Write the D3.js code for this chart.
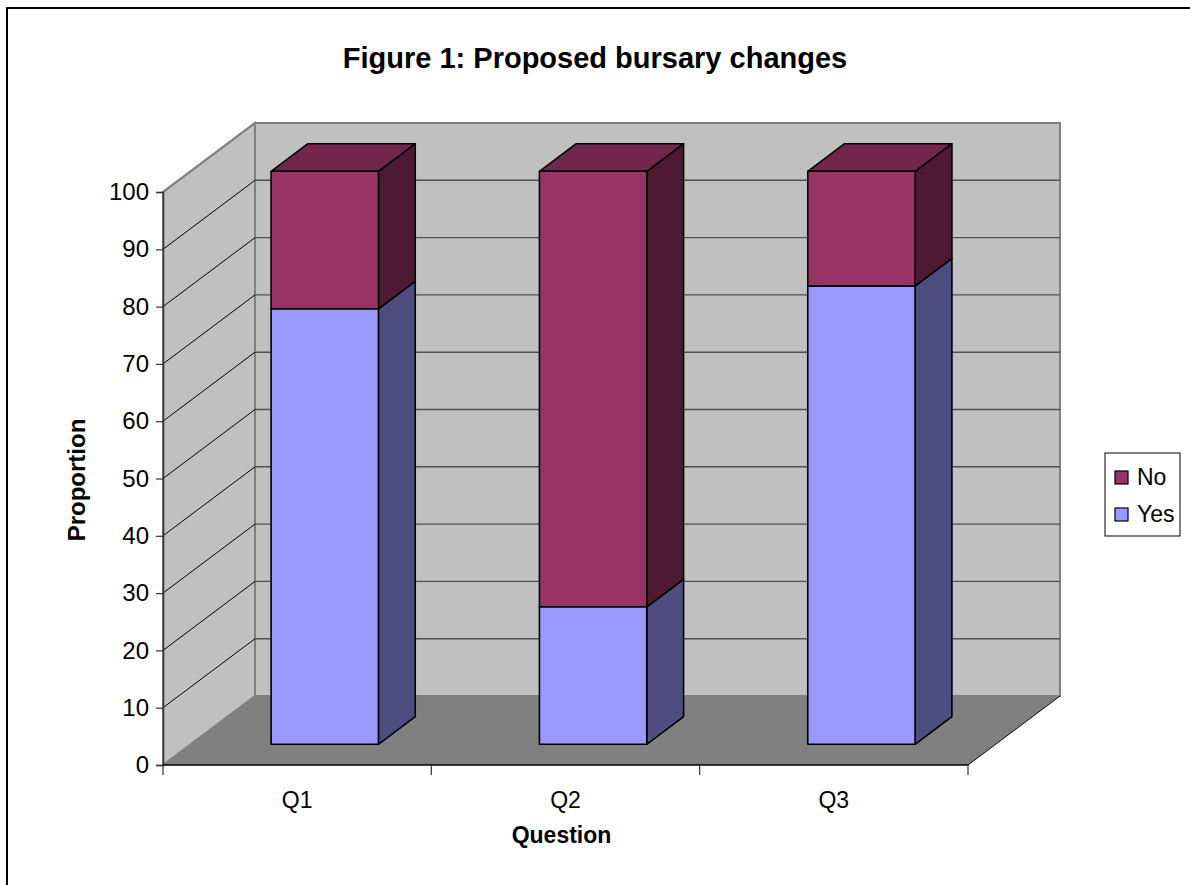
<!DOCTYPE html>
<html>
<head>
<meta charset="utf-8">
<script src="https://cdn.jsdelivr.net/npm/d3@7"></script>
<style>
  html, body { margin: 0; padding: 0; background: #fff; }
  svg { display: block; }
  text { font-family: "Liberation Sans", Arial, sans-serif; }
</style>
</head>
<body>
<script>
const categories = ["Q1", "Q2", "Q3"];
const yesValues = [76, 24, 80];
const noValues = [24, 76, 20];
const seriesNames = ["Yes", "No"];
const yTickValues = [0, 10, 20, 30, 40, 50, 60, 70, 80, 90, 100];
const chartTitle = "Figure 1: Proposed bursary changes";
const xTitle = "Question";
const yTitle = "Proportion";

(function () {
const W = 1190, H = 885;
const svg = d3.select("body").append("svg").attr("width", W).attr("height", H);

// outer chart border (right/bottom lie outside the picture)
svg.append("rect").attr("x", 7).attr("y", 8).attr("width", 1200).attr("height", 900)
  .attr("fill", "#fff").attr("stroke", "#000").attr("stroke-width", 2);

// 3D geometry
const pLeft = 163, pRight = 968, pBottom = 765, pTop = 192;
const DX = 92, DY = 69;

const x = d3.scaleBand().domain(categories).range([pLeft, pRight]).paddingInner(0.6).paddingOuter(0.3);
const y = d3.scaleLinear().domain([0, 100]).range([pBottom, pTop]);
const P = (px, v, z) => [px + z * DX, y(v) - z * DY];

const colors = {
  Yes: { front: "#9999FF", side: "#4D4D80", top: "#7A7ACC" },
  No:  { front: "#993366", side: "#4D1933", top: "#73264D" }
};

const line = d3.line();
const g = svg.append("g");

// back wall
g.append("path").attr("d", line([P(pLeft, 0, 1), P(pRight, 0, 1), P(pRight, 100, 1), P(pLeft, 100, 1)]) + "Z")
  .attr("fill", "#C0C0C0").attr("stroke", "#808080").attr("stroke-width", 2);
// side wall
g.append("path").attr("d", line([P(pLeft, 0, 0), P(pLeft, 100, 0), P(pLeft, 100, 1), P(pLeft, 0, 1)]) + "Z")
  .attr("fill", "#C0C0C0").attr("stroke", "#808080").attr("stroke-width", 2);
// floor
g.append("path").attr("d", line([P(pLeft, 0, 0), P(pRight, 0, 0), P(pRight, 0, 1), P(pLeft, 0, 1)]) + "Z")
  .attr("fill", "#808080").attr("stroke", "none");
// floor right edge
g.append("path").attr("d", line([P(pRight, 0, 0), P(pRight, 0, 1)]))
  .attr("stroke", "#000").attr("stroke-width", 1).attr("fill", "none");

// gridlines on back wall and side wall
const inner = yTickValues.filter(v => v > 0 && v < 100);
g.selectAll(".grid-back").data(inner).enter().append("path")
  .attr("d", v => line([P(pLeft, v, 1), P(pRight, v, 1)]))
  .attr("stroke", "#505050").attr("stroke-width", 1.4).attr("fill", "none");
g.selectAll(".grid-side").data(inner).enter().append("path")
  .attr("d", v => line([P(pLeft, v, 0), P(pLeft, v, 1)]))
  .attr("stroke", "#000").attr("stroke-width", 1).attr("fill", "none");
// side wall top edge
g.append("path").attr("d", line([P(pLeft, 100, 0), P(pLeft, 100, 1)]))
  .attr("stroke", "#808080").attr("stroke-width", 2).attr("fill", "none");

// bars
const data = categories.map((c, i) => ({ cat: c, Yes: yesValues[i], No: noValues[i] }));
const stacked = d3.stack().keys(seriesNames)(data);
const z0 = 0.3, z1 = 0.7;
const bw = x.bandwidth();
stacked.forEach(series => {
  const col = colors[series.key];
  series.forEach(d => {
    const x0 = x(d.data.cat), x1 = x0 + bw;
    const v0 = d[0], v1 = d[1];
    const bg = g.append("g");
    bg.append("path").attr("d", line([P(x1, v0, z0), P(x1, v0, z1), P(x1, v1, z1), P(x1, v1, z0)]) + "Z")
      .attr("fill", col.side).attr("stroke", "#000").attr("stroke-width", 1.6).attr("stroke-linejoin", "round");
    bg.append("path").attr("d", line([P(x0, v1, z0), P(x1, v1, z0), P(x1, v1, z1), P(x0, v1, z1)]) + "Z")
      .attr("fill", col.top).attr("stroke", "#000").attr("stroke-width", 1.6).attr("stroke-linejoin", "round");
    bg.append("path").attr("d", line([P(x0, v0, z0), P(x1, v0, z0), P(x1, v1, z0), P(x0, v1, z0)]) + "Z")
      .attr("fill", col.front).attr("stroke", "#000").attr("stroke-width", 1.6).attr("stroke-linejoin", "round");
  });
});

// value axis (front-left edge)
const yAxis = d3.axisLeft(y).tickValues(yTickValues).tickSize(7).tickPadding(7).tickFormat(d3.format("d"));
const ya = svg.append("g").attr("transform", `translate(${pLeft},0)`).call(yAxis);
ya.select(".domain").attr("stroke", "#333").attr("stroke-width", 1.5);
ya.selectAll(".tick line").attr("stroke", "#333").attr("stroke-width", 1.2);
ya.selectAll(".tick text").attr("font-size", 24).attr("fill", "#000")
  .attr("font-family", "Liberation Sans, Arial, sans-serif");

// category axis (front edge of the floor)
const xEdges = d3.scaleLinear().domain([0, categories.length]).range([pLeft, pRight]);
const xAxisG = svg.append("g").attr("transform", `translate(0,${pBottom})`);
xAxisG.append("line").attr("x1", pLeft).attr("x2", pRight).attr("y1", 0).attr("y2", 0)
  .attr("stroke", "#000").attr("stroke-width", 1.5);
xAxisG.selectAll(".xt").data(d3.range(categories.length + 1)).enter().append("line")
  .attr("x1", i => xEdges(i)).attr("x2", i => xEdges(i)).attr("y1", 0).attr("y2", 10)
  .attr("stroke", "#333").attr("stroke-width", 1.2);
xAxisG.selectAll(".xl").data(categories).enter().append("text")
  .attr("x", (c, i) => xEdges(i + 0.5)).attr("y", 43)
  .attr("text-anchor", "middle").attr("font-size", 23).text(c => c);

// titles
svg.append("text").attr("x", 595).attr("y", 68).attr("text-anchor", "middle")
  .attr("font-size", 29).attr("font-weight", "bold").text(chartTitle);
svg.append("text").attr("x", (pLeft + pRight) / 2 - 4).attr("y", 843).attr("text-anchor", "middle")
  .attr("font-size", 23).attr("font-weight", "bold").text(xTitle);
svg.append("text").attr("transform", "translate(85,480) rotate(-90)").attr("text-anchor", "middle")
  .attr("font-size", 24).attr("font-weight", "bold").text(yTitle);

// legend (No on top, Yes below)
const legendItems = seriesNames.slice().reverse();
const lg = svg.append("g");
lg.append("rect").attr("x", 1105).attr("y", 453).attr("width", 75).attr("height", 83)
  .attr("fill", "#fff").attr("stroke", "#000").attr("stroke-width", 1);
legendItems.forEach((k, i) => {
  lg.append("rect").attr("x", 1115).attr("y", 471 + i * 37).attr("width", 13).attr("height", 13)
    .attr("fill", colors[k].front).attr("stroke", "#000").attr("stroke-width", 1.2);
  lg.append("text").attr("x", 1137).attr("y", 485 + i * 37).attr("font-size", 23).text(k);
});
})();
</script>
</body>
</html>
